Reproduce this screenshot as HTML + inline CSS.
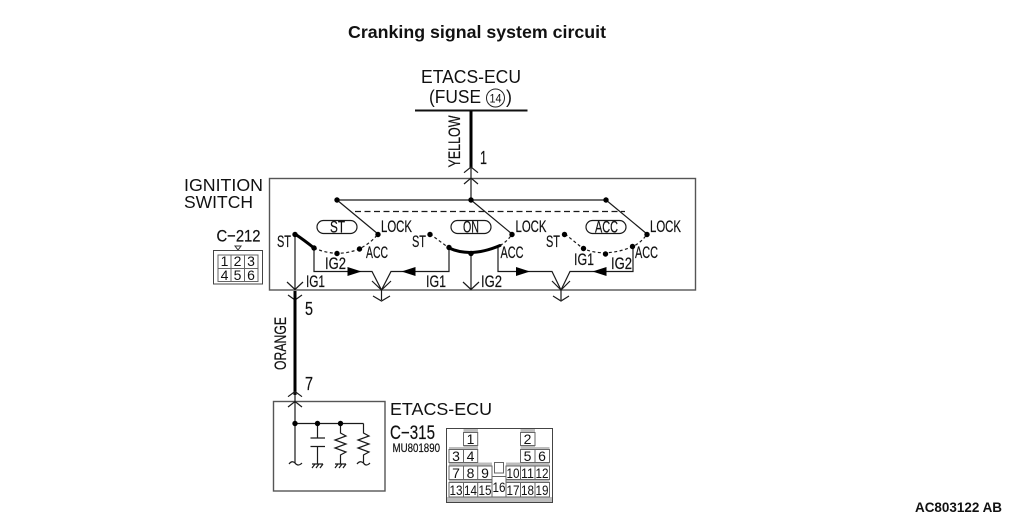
<!DOCTYPE html>
<html><head><meta charset="utf-8"><style>
html,body{margin:0;padding:0;background:#fff;width:1010px;height:519px;overflow:hidden}
svg{display:block}
text{font-family:"Liberation Sans",sans-serif;fill:#111}
.l{font-size:16.500px;stroke:#111;stroke-width:.2px}
.n{font-size:14px;text-anchor:middle}
.s{stroke:#111;stroke-width:.2px}
</style></head><body>
<svg width="1010" height="519" viewBox="0 0 1010 519" xmlns="http://www.w3.org/2000/svg">
<text x="348" y="38" font-size="17.500" font-weight="bold" textLength="258" lengthAdjust="spacingAndGlyphs" fill="#000">Cranking signal system circuit</text>
<text x="421" y="83" font-size="18" textLength="100" lengthAdjust="spacingAndGlyphs">ETACS-ECU</text>
<text x="429" y="103" font-size="18" textLength="52" lengthAdjust="spacingAndGlyphs">(FUSE</text>
<circle cx="495.500" cy="98" r="9" fill="none" stroke="#222" stroke-width="1"/>
<text x="495.500" y="102.500" font-size="12" text-anchor="middle" textLength="12" lengthAdjust="spacingAndGlyphs">14</text>
<text x="506" y="103" font-size="18">)</text>
<path d="M415 110.500H527.500" stroke="#111" stroke-width="2" fill="none"/>
<path d="M471 111V168" stroke="#000" stroke-width="3" fill="none"/>
<text class="s" transform="translate(460,167.500) rotate(-90)" font-size="17" textLength="52" lengthAdjust="spacingAndGlyphs">YELLOW</text>
<text class="s" x="480" y="164" font-size="18" textLength="7" lengthAdjust="spacingAndGlyphs">1</text>

<text x="184" y="191" font-size="17.500" textLength="79" lengthAdjust="spacingAndGlyphs">IGNITION</text>
<text x="184" y="208" font-size="17.500" textLength="69" lengthAdjust="spacingAndGlyphs">SWITCH</text>
<rect x="269.500" y="178.500" width="426" height="111.500" fill="none" stroke="#555" stroke-width="1.400"/>

<g fill="none" stroke="#1a1a1a" stroke-width="1.200">
<path d="M464 172.700L471 167L478 172.700M471 168V200M464 184L471 178L478 184"/>
<path d="M337 200H606M337 200L378 234M471 200L512 234M606 200L647 234"/>
<path d="M355 211.500H625" stroke-dasharray="6 3.500"/>
<path d="M314 248Q337 258 359 249Q371 243 378 234" stroke-dasharray="3 2.500"/>
<path d="M430 234L449 248" stroke-dasharray="3 2.500"/>
<path d="M500 245.500Q508 241 512 234" stroke-dasharray="3 2.500"/>
<path d="M565 234L583 248.500Q605 258 633 246.500Q642 242 647 234" stroke-dasharray="3 2.500"/>
<path d="M295 234V290M314 248V271.500H372L381.500 290L391 271.500H449V248"/>
<path d="M372 281L381.500 290L391 281M381.500 290V300M373 296L381.500 301L390 296"/>
<path d="M471 254V290M463 282L471 289.500L479 282"/>
<path d="M498 245V271.500H552L561 290L570 271.500H633V247"/>
<path d="M552 281L561 290L570 281M561 290V300M553 296L561 301L569 296"/>
<path d="M287 282L295 289.500L303 282M288 295L295 300L302 295"/>
<rect x="317" y="220.500" width="40" height="13" rx="6.500"/>
<rect x="451" y="220.500" width="40" height="13" rx="6.500"/>
<rect x="586" y="220.500" width="40" height="13" rx="6.500"/>
</g>
<g fill="none" stroke="#000" stroke-width="3" stroke-linecap="round">
<path d="M295 234Q304 240 314 248"/>
<path d="M449 248Q471 258 500 245.500"/>
</g>
<g fill="#000">
<circle cx="337" cy="200" r="2.700"/><circle cx="471" cy="200" r="2.700"/><circle cx="606" cy="200" r="2.700"/>
<circle cx="378" cy="234.500" r="2.700"/><circle cx="512" cy="234.500" r="2.700"/><circle cx="647" cy="234.500" r="2.700"/>
<circle cx="295" cy="234.500" r="2.700"/><circle cx="314" cy="248" r="2.700"/><circle cx="337" cy="253.500" r="2.700"/><circle cx="359.500" cy="249" r="2.700"/>
<circle cx="430" cy="234.500" r="2.700"/><circle cx="449" cy="247.500" r="2.700"/><circle cx="471" cy="253.500" r="2.700"/>
<circle cx="564.500" cy="234.500" r="2.700"/><circle cx="583.500" cy="248.500" r="2.700"/><circle cx="605.500" cy="254" r="2.700"/><circle cx="632.500" cy="246.500" r="2.700"/>
<path d="M347.500 267L361.500 271.500L347.500 276Z"/>
<path d="M401.500 271.500L415.500 267V276Z"/>
<path d="M516 267L530 271.500L516 276Z"/>
<path d="M592.500 271.500L606.500 267V276Z"/>
</g>
<text class="l" x="381" y="232" textLength="31" lengthAdjust="spacingAndGlyphs">LOCK</text>
<text class="l" x="515.500" y="232" textLength="31" lengthAdjust="spacingAndGlyphs">LOCK</text>
<text class="l" x="650" y="232" textLength="31" lengthAdjust="spacingAndGlyphs">LOCK</text>
<text class="l" x="277" y="247" textLength="14" lengthAdjust="spacingAndGlyphs">ST</text>
<text class="l" x="412" y="247" textLength="14" lengthAdjust="spacingAndGlyphs">ST</text>
<text class="l" x="546" y="247" textLength="14" lengthAdjust="spacingAndGlyphs">ST</text>
<text class="l" x="366" y="258" textLength="22" lengthAdjust="spacingAndGlyphs">ACC</text>
<text class="l" x="500.500" y="258" textLength="23" lengthAdjust="spacingAndGlyphs">ACC</text>
<text class="l" x="635" y="258" textLength="23" lengthAdjust="spacingAndGlyphs">ACC</text>
<text class="l" x="325" y="269" textLength="21" lengthAdjust="spacingAndGlyphs">IG2</text>
<text class="l" x="611" y="269" textLength="21" lengthAdjust="spacingAndGlyphs">IG2</text>
<text class="l" x="574" y="265" textLength="20" lengthAdjust="spacingAndGlyphs">IG1</text>
<text class="l" x="306" y="287" textLength="19" lengthAdjust="spacingAndGlyphs">IG1</text>
<text class="l" x="426" y="287" textLength="20" lengthAdjust="spacingAndGlyphs">IG1</text>
<text class="l" x="481" y="287" textLength="21" lengthAdjust="spacingAndGlyphs">IG2</text>
<text class="l" x="330" y="232.500" textLength="15" lengthAdjust="spacingAndGlyphs">ST</text>
<text class="l" x="463" y="232.500" textLength="16" lengthAdjust="spacingAndGlyphs">ON</text>
<text class="l" x="595" y="232.500" textLength="23" lengthAdjust="spacingAndGlyphs">ACC</text>

<text class="s" x="216.500" y="241.500" font-size="17" textLength="44" lengthAdjust="spacingAndGlyphs">C−212</text>
<path d="M235 246H241L238 250Z" fill="none" stroke="#333"/>
<path d="M213.500 250.500H262.500V284H213.500Z" fill="#fff" stroke="#444"/>
<path d="M218 255H258V281.500H218Z M231 255V281.500M244.500 255V281.500M218 268.500H258" fill="none" stroke="#666"/>
<text class="n" x="224.500" y="266">1</text><text class="n" x="237.500" y="266">2</text><text class="n" x="251" y="266">3</text>
<text class="n" x="224.500" y="280">4</text><text class="n" x="237.500" y="280">5</text><text class="n" x="251" y="280">6</text>

<path d="M295 291V395" stroke="#000" stroke-width="3" fill="none"/>
<text class="s" transform="translate(286,370) rotate(-90)" font-size="17" textLength="53" lengthAdjust="spacingAndGlyphs">ORANGE</text>
<text class="s" x="305" y="315" font-size="18" textLength="8" lengthAdjust="spacingAndGlyphs">5</text>
<text class="s" x="305" y="390" font-size="18" textLength="8" lengthAdjust="spacingAndGlyphs">7</text>

<rect x="273.500" y="401.500" width="111.500" height="89.500" fill="none" stroke="#555" stroke-width="1.400"/>
<g fill="none" stroke="#1a1a1a" stroke-width="1.200">
<path d="M288 396.700L295 391.500L302 396.700M288 407L295 401.500L302 407M295 392V463"/>
<path d="M289 464Q292 460 295 463Q298 467 302 463"/>
<path d="M295 423.500H363.500"/>
<path d="M317.500 423.500V438M310.500 438H325M310.500 446.500H325M317.500 446.500V464M312 464H323M312 468L315 464M316 468L319 464M320 468L323 464"/>
<path d="M340.500 423.500V433L346 436L335 440L346 444L335 448L346 452L340.500 455V464M335 464H346M335 468L338 464M339 468L342 464M343 468L346 464"/>
<path d="M363.500 423.500V433L369 436L358 440L369 444L358 448L369 452L363.500 455V463"/>
<path d="M357 464Q360 460 363.500 463Q366 467 370 463"/>
</g>
<g fill="#000"><circle cx="295" cy="423.500" r="2.700"/><circle cx="317.500" cy="423.500" r="2.700"/><circle cx="340.500" cy="423.500" r="2.700"/></g>
<text x="390" y="415" font-size="17.500" textLength="102" lengthAdjust="spacingAndGlyphs">ETACS-ECU</text>
<text class="s" x="390" y="439" font-size="19" textLength="45" lengthAdjust="spacingAndGlyphs">C−315</text>
<text class="s" x="392.500" y="452" font-size="12" textLength="47.500" lengthAdjust="spacingAndGlyphs">MU801890</text>

<rect x="446.500" y="428.500" width="106" height="74" fill="#fff" stroke="#444"/>
<g fill="#bdbdbd">
<rect x="463.500" y="429" width="14.500" height="4"/>
<rect x="520.500" y="429" width="14.500" height="4"/>
<rect x="463.500" y="445" width="14.500" height="5"/>
<rect x="520.500" y="445" width="14.500" height="5"/>
<rect x="449" y="447" width="14.500" height="3"/>
<rect x="535" y="447" width="14.500" height="3"/>
<rect x="449" y="462.500" width="43" height="3.500"/>
<rect x="506" y="462.500" width="43.500" height="3.500"/>
<rect x="449" y="479.500" width="43" height="3"/>
<rect x="506" y="479.500" width="43.500" height="3"/>
<rect x="447" y="497" width="105" height="5"/>
</g>
<g fill="none" stroke="#666" stroke-width="1">
<path d="M463.500 432.500H477.700V445.500H463.500ZM520.500 432.500H535V445.500H520.500Z"/>
<path d="M449 449.500H477.700V462.500H449ZM463.500 449.500V462.500M520.500 449.500H549.500V462.500H520.500ZM535 449.500V462.500"/>
<path d="M449 466H492V479.500H449ZM463.500 466V479.500M477.700 466V479.500M506 466H549.500V479.500H506ZM520.500 466V479.500M535 466V479.500"/>
<path d="M449 482.500H492V497H449ZM463.500 482.500V497M477.700 482.500V497M506 482.500H549.500V497H506ZM520.500 482.500V497M535 482.500V497"/>
<path d="M492 476.500H506V497H492ZM494.500 462.500V473H503.500V462.500H494.500Z"/>
</g>
<text class="n" x="470.500" y="444">1</text><text class="n" x="527.500" y="444">2</text>
<text class="n" x="456" y="461">3</text><text class="n" x="470.500" y="461">4</text><text class="n" x="527.500" y="461">5</text><text class="n" x="542" y="461">6</text>
<text class="n" x="456" y="478">7</text><text class="n" x="470.500" y="478">8</text><text class="n" x="485" y="478">9</text>
<text class="n" x="513" y="478" textLength="13" lengthAdjust="spacingAndGlyphs">10</text><text class="n" x="527.500" y="478" textLength="13" lengthAdjust="spacingAndGlyphs">11</text><text class="n" x="542" y="478" textLength="13" lengthAdjust="spacingAndGlyphs">12</text>
<text class="n" x="456" y="495" textLength="13" lengthAdjust="spacingAndGlyphs">13</text><text class="n" x="470.500" y="495" textLength="13" lengthAdjust="spacingAndGlyphs">14</text><text class="n" x="485" y="495" textLength="13" lengthAdjust="spacingAndGlyphs">15</text>
<text class="n" x="499" y="492" textLength="13" lengthAdjust="spacingAndGlyphs">16</text>
<text class="n" x="513" y="495" textLength="13" lengthAdjust="spacingAndGlyphs">17</text><text class="n" x="527.500" y="495" textLength="13" lengthAdjust="spacingAndGlyphs">18</text><text class="n" x="542" y="495" textLength="13" lengthAdjust="spacingAndGlyphs">19</text>

<text x="915" y="512" font-size="13.500" font-weight="bold" textLength="87" lengthAdjust="spacingAndGlyphs" fill="#000">AC803122 AB</text>
</svg>
</body></html>
